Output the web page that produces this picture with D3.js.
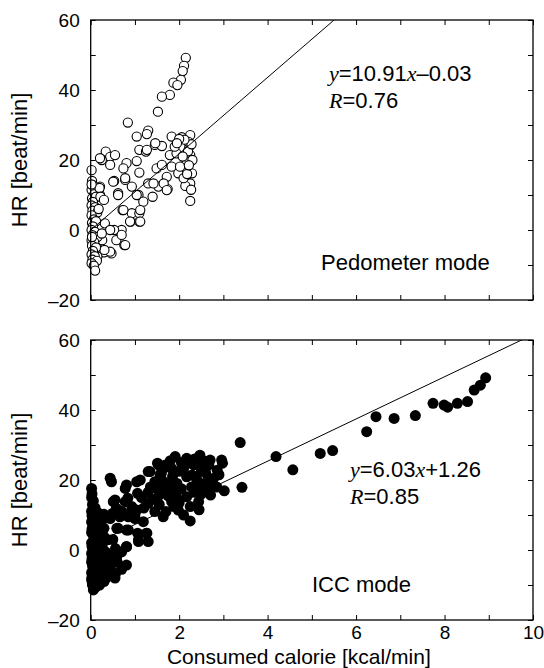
<!DOCTYPE html>
<html>
<head>
<meta charset="utf-8">
<title>HR vs consumed calorie</title>
<script src="https://cdn.jsdelivr.net/npm/d3@7/dist/d3.min.js"></script>
<style>
html, body { margin: 0; padding: 0; background: #fff; }
body { font-family: "Liberation Sans", Arial, sans-serif; }
.axis text { font-family: "Liberation Sans", Arial, sans-serif; font-size: 19px; fill: #000; }
.axis line { stroke: #000; stroke-width: 1; }
.it { font-family: "Liberation Serif", "Times New Roman", serif; font-style: italic; }
</style>
</head>
<body>
<div id="chart"></div>
<script>
// axis ticks
const xTicks = [0, 1, 2, 3, 4, 5, 6, 7, 8, 9, 10];
const yTicks = [-20, -10, 0, 10, 20, 30, 40, 50, 60];

// panel texts and regression results
const modeLabels = ["Pedometer mode", "ICC mode"];
const fitSlope = [10.91, 6.03];
const fitIntercept = [-0.03, 1.26];
const fitR = [0.76, 0.85];

// pedometer mode: [consumed calorie, HR]
const pedometerPoints = [
  [2.15,49.2],[2.11,46.9],[2.08,45.4],[2.04,42.9],[1.87,42.1],[1.96,41.4],[1.79,38.6],[1.61,38.1],
  [1.52,33.8],[0.84,30.7],[1.30,28.4],[1.27,27.4],[1.04,26.7],[1.83,26.7],[2.06,26.5],[2.25,27.1],
  [1.45,24.3],[1.61,24.0],[1.10,22.9],[1.25,22.4],[0.34,22.4],[0.44,20.9],[0.25,20.0],[0.55,21.4],
  [0.44,18.6],[0.81,19.1],[1.04,19.7],[0.74,17.6],[0.02,17.1],[0.53,14.0],[1.10,16.4],[1.49,17.6],
  [1.61,18.6],[1.72,15.2],[1.53,12.4],[1.30,13.3],[0.78,14.3],[0.93,12.4],[0.62,10.5],[1.08,10.0],
  [1.19,8.1],[1.40,9.5],[1.74,11.7],[1.65,13.3],[1.83,18.1],[1.79,21.4],[1.94,21.9],[1.90,23.8],
  [2.25,21.4],[2.23,23.8],[2.21,25.2],[2.17,19.5],[2.17,17.1],[2.17,13.8],[2.25,13.3],[2.14,12.6],
  [2.25,8.3],[2.29,16.2],[1.98,16.2],[2.02,18.1],[2.10,14.8],[1.27,22.9],[1.46,24.8],[0.21,20.5],
  [0.72,5.7],[0.93,4.8],[1.10,4.8],[0.90,2.4],[1.10,2.4],[0.70,0.0],[0.53,0.0],[0.32,1.9],
  [0.44,0.0],[0.58,-2.9],[0.76,-4.3],[0.47,-6.7],[0.30,-6.4],[0.26,-2.9],[0.15,-5.2],[0.15,-7.6],
  [0.21,12.4],[0.21,10.0],[0.62,10.0],[0.51,13.8],[0.78,14.8],[1.04,10.0],[1.42,13.3],[1.72,11.4],
  [0.74,5.7],[1.12,5.7],[1.12,2.4],[0.89,2.4],[0.70,-1.4],[0.78,-4.3],[0.44,-6.2],[0.31,-5.7],
  [2.20,22.5],[2.28,24.5],[2.12,25.8],[2.30,20.0],[2.18,16.0],[2.27,11.5],[2.08,21.0],[2.22,18.5],
  [2.00,26.0],[1.95,24.8],
  [0.03,14.0],[0.05,12.8],[0.02,11.5],[0.08,10.2],[0.03,9.0],[0.12,9.5],[0.05,8.0],[0.02,7.0],
  [0.10,6.5],[0.04,5.5],[0.15,5.0],[0.02,4.2],[0.07,3.0],[0.03,2.0],[0.12,2.5],[0.05,1.0],
  [0.02,0.0],[0.09,-0.5],[0.04,-1.5],[0.15,-2.0],[0.02,-3.0],[0.08,-3.5],[0.03,-4.5],[0.12,-5.0],
  [0.05,-6.0],[0.02,-7.0],[0.09,-7.5],[0.04,-8.5],[0.14,-8.8],[0.02,-9.5],[0.07,-10.2],[0.10,-11.6],
  [0.20,12.0],[0.22,9.5],[0.30,8.6],[0.18,6.0],[0.25,-1.0],[0.02,13.0],[0.03,-2.0]
];

// ICC mode: [consumed calorie, HR]
const iccPoints = [
  [4.19,26.7],[4.57,22.9],[5.19,27.6],[5.47,28.4],[6.24,33.8],[6.45,38.1],[6.86,37.6],[7.34,38.4],
  [7.74,41.9],[7.99,41.4],[8.07,40.8],[8.29,41.9],[8.52,42.4],[8.67,45.7],[8.81,47.1],[8.93,49.2],
  [3.38,30.7],[3.42,17.9],[3.02,16.9],[2.98,24.8],[2.96,25.7],[2.70,25.7],[2.47,27.1],[2.17,26.2],
  [1.91,26.7],[2.60,25.3],[2.33,24.3],[2.10,23.3],[1.83,23.3],[1.68,23.6],[1.53,24.3],[1.34,22.4],
  [1.51,24.8],[1.69,24.3],[1.30,22.4],[1.12,20.0],[1.04,19.5],[0.81,18.6],[0.78,17.6],[0.44,20.5],
  [0.47,19.5],[0.02,17.6],[1.06,16.2],[0.51,13.8],[0.78,13.8],[1.30,13.3],[1.49,17.6],[1.74,19.0],
  [1.55,15.7],[1.64,9.5],[1.98,11.4],[2.25,12.4],[2.25,8.3],[2.44,13.8],[2.17,15.2],[1.94,15.2],
  [2.71,15.7],[2.63,17.6],[2.78,20.5],[2.86,22.8],[2.67,24.3],[2.29,21.4],[2.17,20.9],[2.40,20.0],
  [2.56,19.0],[2.74,18.6],[1.61,20.0],[1.64,18.1],[1.74,17.6],[1.83,13.8],[1.88,12.4],[1.19,8.1],
  [0.85,9.5],[1.00,10.0],[1.04,11.4],[0.93,12.4],[0.62,6.2],[0.81,5.7],[1.06,4.8],[1.08,2.4],
  [1.30,2.4],[1.26,4.8],[0.81,1.0],[0.70,-0.5],[0.56,0.4],[0.38,2.9],[0.30,3.8],[0.24,5.2],
  [0.16,8.1],[0.26,8.6],[0.44,9.0],[0.66,9.5],[0.58,11.9],[0.81,-4.3],[0.56,-6.7],[0.42,-6.7],
  [0.26,-7.6],[0.30,-2.9],[0.24,-1.0],[0.44,-4.8],[0.06,-11.4],
  [0.59,6.2],[0.85,5.7],[1.08,2.9],[1.27,4.8],[1.00,9.0],[0.93,11.4],[0.55,14.3],[0.84,14.8],
  [0.81,0.9],[0.59,-1.9],[0.51,-6.7],[0.34,-6.2],[0.20,-8.6],[0.17,7.1],[0.40,9.5],[0.30,6.2],
  [0.14,3.3],[0.26,0.9],[0.33,-0.5],[0.40,-3.3],[0.18,-3.3],[0.10,-5.2],[0.10,-8.1],[0.04,-9.5],
  [0.02,15.0],[0.04,13.0],[0.02,11.0],[0.06,9.5],[0.02,8.0],[0.05,6.5],[0.02,5.0],[0.07,3.5],
  [0.02,2.0],[0.05,0.5],[0.02,-1.0],[0.08,-2.0],[0.02,-3.5],[0.05,-5.0],[0.02,-6.5],[0.07,-7.0],
  [0.02,-8.5],[0.04,-10.0],[0.12,-10.5],[0.10,12.0],[0.12,10.0],[0.15,1.5],[0.20,-5.8],[0.12,-1.5],
  [0.10,4.5],
  [1.45,19.5],[1.57,21.5],[1.85,21.0],[1.95,19.0],[2.05,17.5],[2.00,22.5],[2.28,18.0],[2.35,16.5],
  [2.50,22.5],[2.55,24.5],[2.20,24.8],[1.75,15.5],[1.40,14.5],[1.20,12.0],[1.70,11.0],[2.10,10.0],
  [2.45,11.5],[2.85,18.0],[1.15,15.0],
  [0.03,16.0],[0.06,14.0],[0.08,11.0],[0.03,9.8],[0.08,7.5],[0.03,6.0],[0.10,2.5],[0.03,1.0],
  [0.07,-0.3],[0.03,-2.5],[0.10,-3.5],[0.04,-4.2],[0.08,-6.0],[0.03,-7.8],[0.10,-9.2],[0.20,-10.0],
  [0.15,-6.8],[0.25,-4.5],[0.30,-9.0],[0.35,-8.0],[0.20,-2.2],[0.22,2.3],[0.28,-0.3],[0.18,10.5],
  [0.30,10.2],[0.50,10.5],[0.70,11.0],[0.50,3.0],[0.45,-1.5],[0.60,-3.5],[0.70,-5.5],[0.55,-8.0],
  [1.35,18.0],[1.60,22.0],[1.80,25.5],[2.05,25.0],[2.35,26.0],[2.60,22.0],[2.40,18.0],[1.90,17.0],
  [2.00,13.5],[1.55,13.0],[1.30,16.5],[2.70,20.0],[2.90,21.5],[2.50,16.0],[1.45,11.0]
];

const width = 544, height = 668;
const left = 90.7, right = 533;
const panelTop = [20, 340], panelH = 280;

const svg = d3.select("#chart").append("svg")
    .attr("width", width).attr("height", height);

const x = d3.scaleLinear().domain([0, 10]).range([left, right]);

const fmt = d => d < 0 ? "\u2013" + Math.abs(d) : String(d);

function panel(i, points, filled) {
    const top = panelTop[i];
    const y = d3.scaleLinear().domain([-20, 60]).range([top + panelH, top]);
    const isBottom = i === 1;

    const clipId = "clip" + i;
    svg.append("clipPath").attr("id", clipId)
        .append("rect").attr("x", left).attr("y", top)
        .attr("width", right - left).attr("height", panelH);

    // axes on four sides, ticks pointing inward
    svg.append("g").attr("class", "axis")
        .attr("transform", "translate(0," + (top + panelH) + ")")
        .call(d3.axisBottom(x).tickValues(xTicks).tickSizeInner(-5).tickSizeOuter(0).tickPadding(6)
            .tickFormat(d => (isBottom && d % 2 === 0) ? fmt(d) : ""))
        .call(g => g.select(".domain").remove());
    svg.append("g").attr("class", "axis")
        .attr("transform", "translate(0," + top + ")")
        .call(d3.axisTop(x).tickValues(xTicks).tickSizeInner(-5).tickSizeOuter(0).tickFormat(""))
        .call(g => g.select(".domain").remove());
    svg.append("g").attr("class", "axis")
        .attr("transform", "translate(" + left + ",0)")
        .call(d3.axisLeft(y).tickValues(yTicks).tickSizeInner(-5).tickSizeOuter(0).tickPadding(11)
            .tickFormat(d => d % 20 === 0 ? fmt(d) : ""))
        .call(g => g.select(".domain").remove());
    svg.append("g").attr("class", "axis")
        .attr("transform", "translate(" + right + ",0)")
        .call(d3.axisRight(y).tickValues(yTicks).tickSizeInner(-5).tickSizeOuter(0).tickFormat(""))
        .call(g => g.select(".domain").remove());

    // points
    svg.append("g")
        .selectAll("circle").data(points).enter().append("circle")
        .attr("cx", d => x(d[0]))
        .attr("cy", d => y(d[1]))
        .attr("r", filled ? 5.5 : 4.6)
        .attr("fill", filled ? "#000" : "#fff")
        .attr("stroke", "#000")
        .attr("stroke-width", filled ? 0 : 1.1);

    // regression line
    const line = d3.line().x(d => x(d)).y(d => y(fitSlope[i] * d + fitIntercept[i]));
    svg.append("path")
        .attr("clip-path", "url(#" + clipId + ")")
        .attr("d", line([0, 10]))
        .attr("fill", "none").attr("stroke", "#000").attr("stroke-width", 1);

    // frame
    svg.append("rect")
        .attr("x", left).attr("y", top)
        .attr("width", right - left).attr("height", panelH)
        .attr("fill", "none").attr("stroke", "#000").attr("stroke-width", 1.3);

    // y label
    svg.append("text")
        .attr("transform", "translate(27," + (top + panelH / 2) + ") rotate(-90)")
        .attr("text-anchor", "middle")
        .attr("font-size", 22)
        .text("HR [beat/min]");

    // equation
    const eqX = isBottom ? 350 : 329;
    const eqY = isBottom ? 477 : 81;
    const b = fitIntercept[i];
    const eq = svg.append("text").attr("x", eqX).attr("y", eqY).attr("font-size", 22);
    eq.append("tspan").attr("class", "it").text("y");
    eq.append("tspan").text("=" + fitSlope[i].toFixed(2));
    eq.append("tspan").attr("class", "it").text("x");
    eq.append("tspan").text((b < 0 ? "\u2013" : "+") + Math.abs(b).toFixed(2));

    const rt = svg.append("text").attr("x", eqX).attr("y", eqY + 27).attr("font-size", 22);
    rt.append("tspan").attr("class", "it").text("R");
    rt.append("tspan").text("=" + fitR[i].toFixed(2));

    svg.append("text")
        .attr("x", isBottom ? 312 : 321)
        .attr("y", isBottom ? 592 : 270)
        .attr("font-size", 22)
        .text(modeLabels[i]);
}

panel(0, pedometerPoints, false);
panel(1, iccPoints, true);

svg.append("text")
    .attr("x", (left + right) / 2 - 13)
    .attr("y", 664)
    .attr("text-anchor", "middle")
    .attr("font-size", 21)
    .text("Consumed calorie [kcal/min]");
</script>
</body>
</html>
